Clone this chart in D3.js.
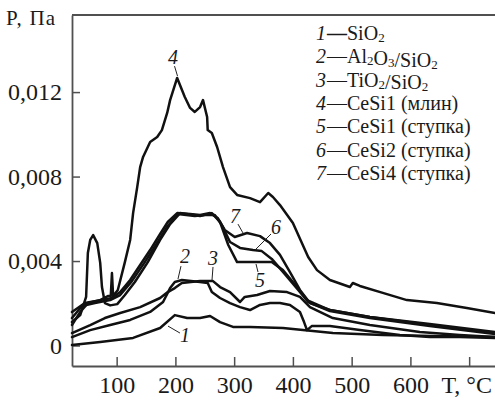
<!DOCTYPE html>
<html>
<head>
<meta charset="utf-8">
<script src="https://cdn.jsdelivr.net/npm/d3@7"></script>
<style>
  body { margin: 0; background: #fff; }
  svg { display: block; }
</style>
</head>
<body>
<svg id="chart" width="495" height="400"></svg>
<script>
// Pressure P (Pa) versus temperature T (°C), one array of [T, P] per sample
const sio2 = [[24,0.00002],[72,0.00017],[128,0.00036],[174,0.00083],[199,0.00144],[220,0.00130],[242,0.00130],[259,0.00140],[276,0.00111],[298,0.00088],[327,0.00088],[383,0.00083],[417,0.00073],[468,0.00059],[553,0.00050],[638,0.00045],[744,0.00040]];

const al2o3Sio2 = [[24,0.00040],[55,0.00073],[89,0.00097],[123,0.00121],[157,0.00159],[179,0.00206],[191,0.00272],[199,0.00301],[211,0.00310],[242,0.00301],[255,0.00296],[262,0.00253],[276,0.00225],[293,0.00201],[310,0.00182],[327,0.00168],[344,0.00192],[361,0.00201],[378,0.00201],[395,0.00192],[412,0.00159],[419,0.00111],[424,0.00073],[432,0.00092],[463,0.00092],[514,0.00073],[582,0.00050],[633,0.00040],[684,0.00040],[744,0.00036]];

const tio2Sio2 = [[24,0.00059],[55,0.00097],[80,0.00130],[106,0.00154],[140,0.00182],[174,0.00225],[187,0.00253],[199,0.00272],[211,0.00296],[242,0.00305],[264,0.00305],[276,0.00277],[293,0.00253],[310,0.00206],[318,0.00230],[339,0.00239],[361,0.00258],[390,0.00253],[412,0.00230],[429,0.00182],[468,0.00130],[531,0.00097],[616,0.00064],[684,0.00050],[744,0.00040]];

const cesi1Mill = [[24,0.00159],[46,0.00201],[72,0.00215],[85,0.00234],[90,0.00234],[92,0.00343],[94,0.00234],[102,0.00263],[114,0.00395],[123,0.00500],[128,0.00627],[135,0.00750],[140,0.00845],[145,0.00893],[157,0.00964],[169,0.00987],[177,0.01020],[186,0.01101],[191,0.01162],[203,0.01267],[216,0.01177],[225,0.01125],[233,0.01106],[242,0.01129],[247,0.01162],[254,0.01082],[255,0.01020],[262,0.01006],[271,0.00940],[281,0.00845],[293,0.00750],[305,0.00713],[327,0.00698],[344,0.00679],[358,0.00722],[366,0.00703],[378,0.00665],[400,0.00580],[426,0.00419],[441,0.00357],[463,0.00310],[497,0.00277],[502,0.00296],[514,0.00282],[553,0.00249],[594,0.00215],[645,0.00201],[696,0.00178],[744,0.00154]];

const cesi1Mortar = [[24,0.00111],[38,0.00144],[48,0.00230],[51,0.00438],[55,0.00500],[60,0.00523],[67,0.00485],[72,0.00391],[75,0.00277],[80,0.00201],[89,0.00190],[101,0.00196],[114,0.00239],[131,0.00301],[153,0.00395],[174,0.00500],[191,0.00575],[208,0.00627],[242,0.00613],[262,0.00627],[276,0.00585],[290,0.00476],[305,0.00395],[364,0.00395],[383,0.00357],[407,0.00277],[424,0.00215],[463,0.00168],[531,0.00135],[633,0.00102],[744,0.00064]];

const cesi2Mortar = [[24,0.00130],[41,0.00187],[63,0.00201],[89,0.00215],[106,0.00239],[126,0.00305],[148,0.00395],[170,0.00490],[187,0.00566],[204,0.00623],[233,0.00613],[250,0.00618],[267,0.00618],[279,0.00571],[293,0.00490],[310,0.00462],[332,0.00452],[347,0.00447],[364,0.00410],[386,0.00339],[409,0.00263],[426,0.00206],[463,0.00163],[531,0.00130],[633,0.00092],[744,0.00054]];

const cesi4Mortar = [[24,0.00097],[38,0.00159],[51,0.00201],[72,0.00215],[92,0.00225],[106,0.00253],[123,0.00310],[140,0.00381],[157,0.00452],[174,0.00528],[187,0.00585],[203,0.00627],[225,0.00623],[242,0.00618],[259,0.00627],[272,0.00604],[284,0.00547],[301,0.00514],[322,0.00533],[344,0.00518],[361,0.00485],[378,0.00429],[395,0.00348],[412,0.00263],[429,0.00201],[463,0.00168],[531,0.00135],[633,0.00097],[744,0.00059]];

const seriesNumbers = ["1", "2", "3", "4", "5", "6", "7"];
// "_x" marks a subscript character
const seriesNames = ["SiO_2", "Al_2O_3/SiO_2", "TiO_2/SiO_2", "CeSi1 (млин)", "CeSi1 (ступка)", "CeSi2 (ступка)", "CeSi4 (ступка)"];
const seriesData = [sio2, al2o3Sio2, tio2Sio2, cesi1Mill, cesi1Mortar, cesi2Mortar, cesi4Mortar];

const xTicks = [100, 200, 300, 400, 500, 600, 700];
const xTickLabels = ["100", "200", "300", "400", "500", "600", "T, °C"];
const yTicks = [0, 0.004, 0.008, 0.012];
const yTickLabels = ["0", "0,004", "0,008", "0,012"];

// Curve numbers with leader lines, in data units: text anchor, leader start, leader end
const curveTags = [
  { n: "4", text: [196, 0.01333], from: [198.5, 0.01323], to: [203.6, 0.01276] },
  { n: "7", text: [301.4, 0.00580], from: [306.5, 0.00575], to: [315.0, 0.00533] },
  { n: "6", text: [371.2, 0.00528], from: [362.7, 0.00528], to: [335.5, 0.00452] },
  { n: "5", text: [344.0, 0.00277], from: [337.2, 0.00386], to: [340.6, 0.00348] },
  { n: "2", text: [216.3, 0.00391], from: [209.5, 0.00376], to: [204.4, 0.00315] },
  { n: "3", text: [264.0, 0.00381], from: [264.0, 0.00372], to: [262.3, 0.00310] },
  { n: "1", text: [216.3, 0.00017], from: [187.4, 0.00092], to: [207.8, 0.00059] }
];

const SERIF = '"Liberation Serif", Tinos, "Times New Roman", serif';
const INK = "#1a1a1a";
const svg = d3.select("#chart").style("font-family", SERIF);
const plotLeft = 72, plotRight = 495, plotTop = 15, plotBottom = 366;

const x = d3.scaleLinear().domain([24, 744]).range([plotLeft, plotRight]);
const y = d3.scaleLinear().domain([-0.00097, 0.01565]).range([plotBottom, plotTop]);

const axisColor = "#505050";

// Axes with inward ticks
const gx = svg.append("g")
  .attr("transform", `translate(0,${plotBottom})`)
  .call(d3.axisBottom(x).tickValues(xTicks).tickSize(-9).tickSizeOuter(0).tickPadding(10)
    .tickFormat((d, i) => xTickLabels[i]));

const gy = svg.append("g")
  .attr("transform", `translate(${plotLeft},0)`)
  .call(d3.axisLeft(y).tickValues(yTicks).tickSize(-8).tickSizeOuter(0).tickPadding(10)
    .tickFormat((d, i) => yTickLabels[i]));

[gx, gy].forEach(g => {
  g.attr("font-family", null).attr("font-size", null);
  g.select(".domain").attr("stroke", axisColor).attr("stroke-width", 1.8);
  g.selectAll(".tick line").attr("stroke", axisColor).attr("stroke-width", 1.5);
  g.selectAll(".tick text")
    .style("font-family", SERIF).style("font-size", "24px").attr("fill", INK);
});
gx.select(".tick:last-of-type text").attr("dx", -3);

// Top frame line
svg.append("line")
  .attr("x1", x.range()[0]).attr("x2", x.range()[1])
  .attr("y1", y.range()[1]).attr("y2", y.range()[1])
  .attr("stroke", axisColor).attr("stroke-width", 1.8);

// Axis title for pressure
svg.append("text")
  .attr("x", 6).attr("y", 25)
  .style("font-family", SERIF)
  .style("font-size", "21px")
  .attr("letter-spacing", 1.2)
  .attr("fill", INK)
  .text("P, Па");

// Curves
const line = d3.line().x(d => x(d[0])).y(d => y(d[1]));
svg.append("g").selectAll("path")
  .data(seriesData)
  .join("path")
  .attr("d", line)
  .attr("fill", "none")
  .attr("stroke", "#111")
  .attr("stroke-width", 2.5)
  .attr("stroke-linejoin", "round")
  .attr("stroke-linecap", "round");

// Curve number tags
const tags = svg.append("g");
curveTags.forEach(t => {
  tags.append("line")
    .attr("x1", x(t.from[0])).attr("y1", y(t.from[1]))
    .attr("x2", x(t.to[0])).attr("y2", y(t.to[1]))
    .attr("stroke", "#222").attr("stroke-width", 1);
  tags.append("text")
    .attr("x", x(t.text[0])).attr("y", y(t.text[1]))
    .attr("text-anchor", "middle")
    .style("font-family", SERIF)
    .style("font-size", "20px")
    .style("font-style", "italic")
    .attr("fill", INK)
    .text(t.n);
});

// Legend: one text per row (number, dash, name with subscripts)
const legend = svg.append("g");
seriesNames.forEach((name, i) => {
  const yy = 40 + i * 23.35;
  const t = legend.append("text").attr("y", yy)
    .style("font-family", SERIF).style("font-size", "20px").attr("fill", INK);
  t.append("tspan").attr("x", 316).style("font-style", "italic").text(seriesNumbers[i]);
  t.append("tspan").attr("x", 327).style("font-weight", i === 0 ? "bold" : null).text("—");
  t.append("tspan").attr("x", 355).text("");
  name.split(/(_.)/).filter(s => s.length).forEach(p => {
    if (p[0] === "_") {
      t.append("tspan").attr("dy", 2).style("font-size", "13px").text(p[1]);
      t.append("tspan").attr("dy", -2).text("");
    } else {
      t.append("tspan").text(p);
    }
  });
});
</script>
</body>
</html>
